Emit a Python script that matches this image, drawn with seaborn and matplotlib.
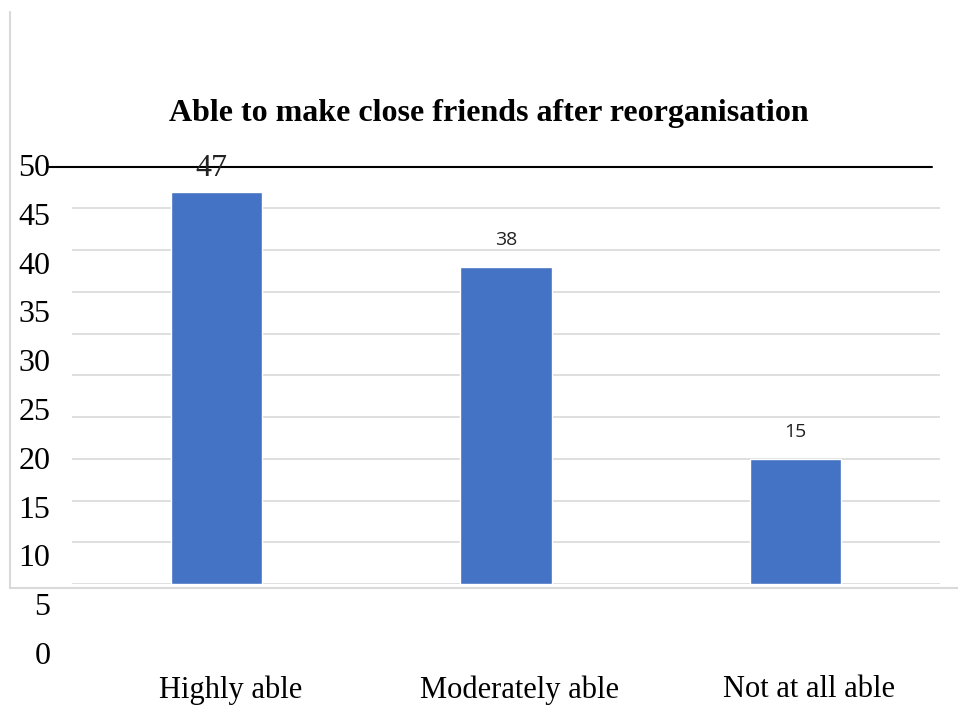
import matplotlib
matplotlib.use("Agg")
import matplotlib.pyplot as plt
import matplotlib.transforms as mtransforms
from matplotlib.lines import Line2D
import seaborn as sns
import pandas as pd

# ---- data ----
categories = ["Highly able", "Moderately able", "Not at all able"]
values = [47, 38, 15]
tick_values = [0, 5, 10, 15, 20, 25, 30, 35, 40, 45, 50]
title = "Able to make close friends after reorganisation"

sns.set_theme(style="white")
plt.rcParams["font.family"] = ["Liberation Serif", "DejaVu Serif"]

W, H = 958, 706
fig = plt.figure(figsize=(W / 100, H / 100), dpi=100)
fig.patch.set_facecolor("white")

def fx(px):
    return px / W

def fy(py):
    return 1 - py / H

# main plotting axes (bars + gridlines)
ax = fig.add_axes([fx(72), fy(584), fx(940) - fx(72), fy(166.7) - fy(584)])
df = pd.DataFrame({"cat": categories, "val": values})
sns.barplot(data=df, x="cat", y="val", width=0.315, color="#4472C4",
            saturation=1, ax=ax, zorder=3)
ax.set_ylim(0, 50)
ax.set_xlim(-0.5, 2.5)
ax.set_yticks(tick_values[:-1])
ax.yaxis.grid(True, color="#d9d9d9", linewidth=1.2, zorder=0)
ax.set_axisbelow(True)
ax.tick_params(left=False, bottom=False, labelleft=False, labelbottom=False)
ax.set_xlabel("")
ax.set_ylabel("")
for s in ax.spines.values():
    s.set_visible(False)
ax.axhline(50, xmin=(49 - 72) / 868, xmax=(932 - 72) / 868, color="black",
           linewidth=1.5, clip_on=False, zorder=4)

# data labels
for i, v in enumerate(values):
    if i == 0:
        ax.annotate(str(v), xy=(i, v), xytext=(-4, 17), textcoords="offset points",
                    ha="center", va="center", fontsize=23, color="#222222",
                    family=["Liberation Serif"], annotation_clip=False, zorder=5)
    else:
        ax.annotate(str(v), xy=(i, v), xytext=(0, 19.5), textcoords="offset points",
                    ha="center", va="center", fontsize=14, color="#222222",
                    family=["Open Sans", "DejaVu Sans"], zorder=5)

# label axes (tick labels as drawn in the reference)
ax2 = fig.add_axes([fx(72), fy(653), fx(940) - fx(72), fy(165) - fy(653)])
ax2.patch.set_alpha(0)
ax2.set_ylim(0, 50)
ax2.set_xlim(-0.5, 2.5)
ax2.set_yticks(tick_values)
ax2.set_yticklabels([str(t) for t in tick_values], fontsize=23, color="black")
ax2.set_xticks(range(len(categories)))
ax2.set_xticklabels(categories, fontsize=22, color="black")
ax2.tick_params(axis="y", length=0, pad=15.5)
ax2.tick_params(axis="x", length=0, pad=16)
off = mtransforms.ScaledTranslation(14 / 100, 0, fig.dpi_scale_trans)
for lab in ax2.get_xticklabels():
    lab.set_transform(lab.get_transform() + off)
for s in ax2.spines.values():
    s.set_visible(False)
ax2.grid(False)

# title
fig.text(fx(489), fy(113), title, ha="center", va="center", fontsize=23,
         fontweight="bold", color="black")

# chart frame lines
fig.add_artist(Line2D([fx(10), fx(10)], [fy(12), fy(588)], color="#d9d9d9", linewidth=1.5))
fig.add_artist(Line2D([fx(10), 1.0], [fy(588), fy(588)], color="#d9d9d9", linewidth=1.5))

fig.savefig("out.png", dpi=100, facecolor="white")
